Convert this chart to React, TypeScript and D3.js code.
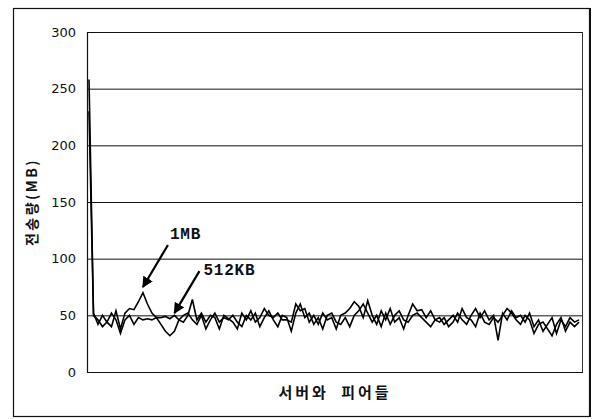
import React, { useRef, useEffect } from 'react';
import * as d3 from 'd3';

// transfer volume (MB) per server/peer
const series1MB = [
  258, 52, 42, 50, 44, 40, 54, 38, 52, 56, 55, 62, 70, 60, 52, 48, 48, 49, 47, 50,
  46, 44, 50, 64, 46, 52, 44, 50, 48, 38, 50, 47, 44, 38, 52, 46, 54, 44, 48, 56,
  50, 48, 52, 46, 46, 44, 60, 54, 56, 44, 50, 42, 52, 46, 48, 38, 50, 52, 56, 62,
  58, 48, 63, 50, 42, 54, 46, 56, 44, 48, 38, 50, 60, 54, 55, 48, 54, 46, 44, 48,
  40, 44, 52, 46, 42, 50, 56, 48, 54, 46, 50, 28, 52, 46, 54, 48, 50, 44, 52, 40,
  46, 36, 42, 48, 34, 46, 40, 48, 44, 46,
];
const series512KB = [
  230, 50, 46, 40, 44, 52, 46, 34, 46, 50, 42, 48, 46, 47, 46, 48, 42, 36, 32, 36,
  46, 50, 52, 46, 42, 50, 38, 46, 52, 44, 48, 46, 50, 44, 40, 50, 46, 52, 40, 48,
  54, 46, 40, 50, 48, 36, 52, 60, 48, 52, 42, 48, 38, 50, 52, 44, 42, 48, 40, 50,
  54, 60, 52, 44, 50, 40, 52, 42, 50, 54, 46, 44, 50, 52, 48, 44, 40, 46, 48, 42,
  46, 50, 44, 56, 48, 46, 40, 52, 44, 42, 48, 44, 50, 56, 52, 46, 42, 50, 46, 34,
  42, 44, 38, 32, 42, 48, 36, 44, 40, 44,
];
const yTicks = [0, 50, 100, 150, 200, 250, 300];
const yLabel = '전송량(MB)';
const xLabel = '서버와 피어들';
// label text, point index and value the arrow tip sits on
const annotations = [
  { text: '1MB', index: 12, value: 75, side: 'top' },
  { text: '512KB', index: 19, value: 52, side: 'right' },
];

const W = 593;
const H = 419;
const M = { left: 87, right: 10, top: 32, bottom: 47 };

const App: React.FC = () => {
  const svgRef = useRef<SVGSVGElement>(null);

  useEffect(() => {
    if (!svgRef.current) return;
    const root = d3.select(svgRef.current);
    root.selectAll('*').remove();

    const allSeries = [series1MB, series512KB];
    const n = series1MB.length;

    const x = d3.scaleLinear().domain([0, n - 1]).range([M.left + 2, W - M.right - 4]);
    const y = d3.scaleLinear().domain([0, 300]).range([H - M.bottom, M.top]);

    const defs = root.append('defs');
    defs.append('marker')
      .attr('id', 'arrow')
      .attr('viewBox', '0 0 10 10')
      .attr('refX', 9)
      .attr('refY', 5)
      .attr('markerWidth', 5)
      .attr('markerHeight', 5)
      .attr('orient', 'auto')
      .append('path')
      .attr('d', 'M0,0 L10,5 L0,10 z')
      .attr('fill', '#000');

    // outer frame
    root.append('rect')
      .attr('x', 13.5).attr('y', 8.5)
      .attr('width', 576).attr('height', 408)
      .attr('fill', 'none').attr('stroke', '#111').attr('stroke-width', 1.2);
    root.append('line')
      .attr('x1', 590).attr('x2', 590).attr('y1', 8).attr('y2', 417)
      .attr('stroke', '#111').attr('stroke-width', 2);

    // gridlines
    root.append('g')
      .selectAll('line')
      .data(yTicks)
      .enter()
      .append('line')
      .attr('x1', M.left).attr('x2', W - M.right)
      .attr('y1', (d) => y(d) + 0.5).attr('y2', (d) => y(d) + 0.5)
      .attr('stroke', '#111').attr('stroke-width', 1);

    // plot frame sides
    root.append('line')
      .attr('x1', M.left + 0.5).attr('x2', M.left + 0.5)
      .attr('y1', M.top).attr('y2', H - M.bottom)
      .attr('stroke', '#111').attr('stroke-width', 1.2);
    root.append('line')
      .attr('x1', W - M.right - 0.5).attr('x2', W - M.right - 0.5)
      .attr('y1', M.top).attr('y2', H - M.bottom)
      .attr('stroke', '#333').attr('stroke-width', 1);

    // y tick labels
    root.append('g')
      .selectAll('text')
      .data(yTicks)
      .enter()
      .append('text')
      .attr('x', 76)
      .attr('y', (d) => y(d))
      .attr('dy', '0.35em')
      .attr('text-anchor', 'end')
      .attr('font-family', 'DejaVu Sans, sans-serif')
      .attr('font-size', 13)
      .attr('fill', '#111')
      .text((d) => d);

    // data lines
    const line = d3.line<number>()
      .x((_, i) => x(i))
      .y((d) => y(d));

    root.append('g')
      .selectAll('path')
      .data(allSeries)
      .enter()
      .append('path')
      .attr('d', (d) => line(d))
      .attr('fill', 'none')
      .attr('stroke', '#000')
      .attr('stroke-width', 1.6)
      .attr('stroke-linejoin', 'miter');

    // annotations with arrows
    annotations.forEach((a) => {
      const ex = x(a.index);
      const ey = y(a.value);
      const sx = ex + 25;
      const sy = ey - 42;
      root.append('line')
        .attr('x1', sx).attr('y1', sy)
        .attr('x2', ex).attr('y2', ey)
        .attr('stroke', '#000').attr('stroke-width', 2.2)
        .attr('marker-end', 'url(#arrow)');
      root.append('text')
        .attr('x', a.side === 'top' ? sx + 2 : sx + 4)
        .attr('y', a.side === 'top' ? sy - 6 : sy + 4)
        .attr('font-family', 'Liberation Mono, monospace')
        .attr('font-weight', 'bold')
        .attr('font-size', 16)
        .attr('letter-spacing', 0.8)
        .attr('fill', '#111')
        .text(a.text);
    });

    // axis titles
    root.append('text')
      .attr('transform', `translate(37, ${(M.top + H - M.bottom) / 2}) rotate(-90)`)
      .attr('text-anchor', 'middle')
      .attr('font-family', 'Noto Sans CJK KR, sans-serif')
      .attr('font-weight', 'bold')
      .attr('font-size', 14)
      .attr('letter-spacing', 2.5)
      .attr('fill', '#111')
      .text(yLabel);

    root.append('text')
      .attr('x', 335)
      .attr('y', 398)
      .attr('text-anchor', 'middle')
      .attr('font-family', 'Noto Sans CJK KR, sans-serif')
      .attr('font-weight', 'bold')
      .attr('font-size', 15)
      .attr('letter-spacing', 3)
      .attr('word-spacing', 6)
      .attr('fill', '#111')
      .text(xLabel);
  }, []);

  return (
    <svg
      ref={svgRef}
      width={W}
      height={H}
      style={{ position: 'absolute', left: 0, top: 0, background: '#fff' }}
    />
  );
};

export default App;
